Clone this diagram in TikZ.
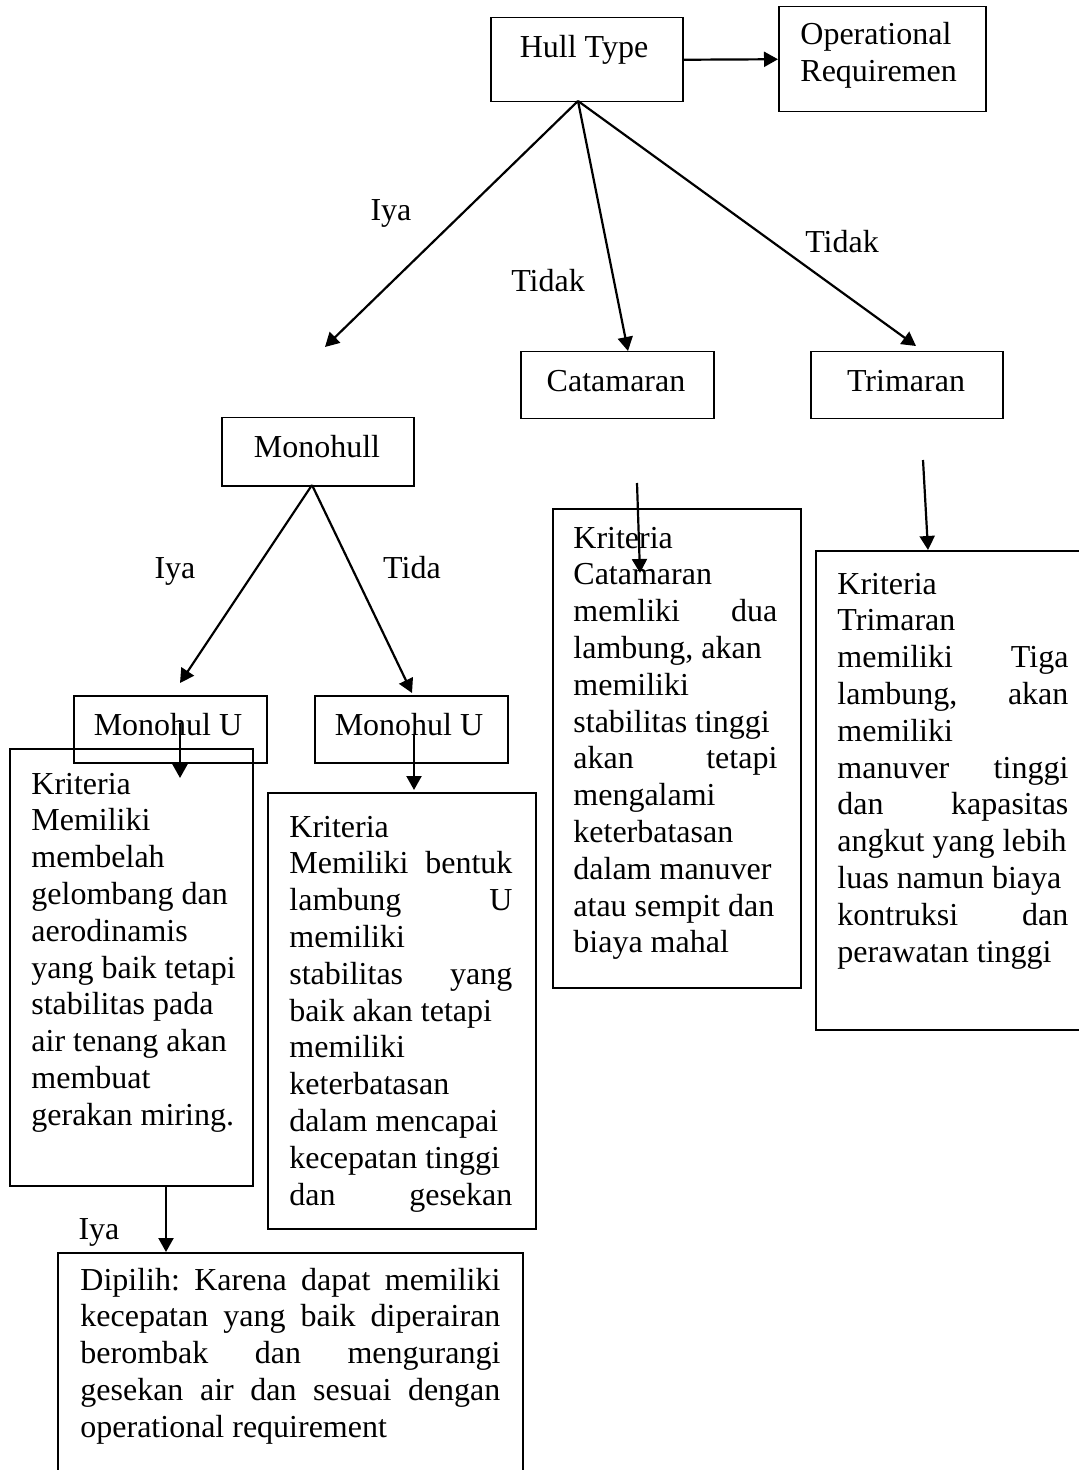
\documentclass[tikz,border=0pt]{standalone}
\usepackage{fontspec}
\setmainfont{Liberation Serif}
\usetikzlibrary{arrows.meta}
\newcommand\rs{\spaceskip=0pt\xspaceskip=0pt\frenchspacing}
\newcommand\jl[2]{\makebox[#1][s]{#2}}
\begin{document}
\begin{tikzpicture}[x=0.5pt,y=-0.5pt,
  box/.style={draw, line width=0.75pt, inner sep=0pt, anchor=north west},
  txt/.style={inner sep=0pt, font=\fontsize{16}{18.4}\selectfont},
  para/.style={txt, anchor=base west, align=left, text width=#1},
  arr/.style={line width=1.1pt, -{Triangle[length=7pt,width=7.5pt]}}]
\clip (0,0) rectangle (1079,1470);
\fill[white] (0,0) rectangle (1079,1470);

% boxes
\node[box, minimum width=96pt, minimum height=42pt] (hull) at (490,17) {};
\node[box, minimum width=103.5pt, minimum height=52.5pt] (op) at (778,6) {};
\node[box, minimum width=96.5pt, minimum height=33.5pt] (cat) at (520,351) {};
\node[box, minimum width=96pt, minimum height=33.5pt] (tri) at (810,351) {};
\node[box, minimum width=96pt, minimum height=34pt] (mono) at (221,417) {};
\node[box, minimum width=96.5pt, minimum height=33.5pt] (mul) at (73,695) {};
\node[box, minimum width=96.5pt, minimum height=33.5pt] (mur) at (314,695) {};
\node[box, minimum width=121.5pt, minimum height=218.5pt] (kl) at (9,748) {};
\node[box, minimum width=134pt, minimum height=218pt] (kr) at (267,792) {};
\node[box, minimum width=124pt, minimum height=239.5pt] (kc) at (552,508) {};
\node[box, minimum width=135pt, minimum height=239.5pt] (kt) at (815,550) {};
\node[box, minimum width=232.5pt, minimum height=115pt] (kb) at (57,1252) {};

% box texts
\node[txt, anchor=base] (hullt) at (584,58) {Hull Type};
\node[para=120pt] (opt) at (800,45) {\rs Operational\\Requiremen};
\node[txt, anchor=base] (catt) at (616,392) {Catamaran};
\node[txt, anchor=base] (trit) at (906,392) {Trimaran};
\node[txt, anchor=base] (monot) at (317,458) {Monohull};
\node[txt, anchor=base] (mult) at (168,735) {Monohul U};
\node[txt, anchor=base] (murt) at (409,735) {Monohul U};

\node[para=125pt] (klt) at (31,794) {\rs Kriteria\\Memiliki\\membelah\\gelombang dan\\aerodinamis\\yang baik tetapi\\stabilitas pada\\air tenang akan\\membuat\\gerakan miring.};
\node[para=130pt] (krt) at (289,837) {\rs Kriteria\\\jl{111.5pt}{Memiliki bentuk}\\\jl{111.5pt}{lambung U}\\memiliki\\\jl{111.5pt}{stabilitas yang}\\baik akan tetapi\\memiliki\\keterbatasan\\dalam mencapai\\kecepatan tinggi\\\jl{111.5pt}{dan gesekan}};
\node[para=125pt] (kct) at (573,548) {\rs Kriteria\\Catamaran\\\jl{102pt}{memliki dua}\\lambung, akan\\memiliki\\stabilitas tinggi\\\jl{102pt}{akan tetapi}\\mengalami\\keterbatasan\\dalam manuver\\atau sempit dan\\biaya mahal};
\node[para=130pt] (ktt) at (837,594) {\rs Kriteria\\Trimaran\\\jl{115.5pt}{memiliki Tiga}\\\jl{115.5pt}{lambung, akan}\\memiliki\\\jl{115.5pt}{manuver tinggi}\\\jl{115.5pt}{dan kapasitas}\\angkut yang lebih\\luas namun biaya\\\jl{115.5pt}{kontruksi dan}\\perawatan tinggi};
\node[para=230pt] (kbt) at (80,1290) {\rs\jl{210pt}{Dipilih: Karena dapat memiliki}\\\jl{210pt}{kecepatan yang baik diperairan}\\\jl{210pt}{berombak dan mengurangi}\\\jl{210pt}{gesekan air dan sesuai dengan}\\operational requirement};

% labels
\node[txt, anchor=base] (l1) at (391,221) {Iya};
\node[txt, anchor=base] (l2) at (548,292) {Tidak};
\node[txt, anchor=base] (l3) at (842,253) {Tidak};
\node[txt, anchor=base] (l4) at (175,578) {Iya};
\node[txt, anchor=base] (l5) at (412,578) {Tida};
\node[txt, anchor=base] (l6) at (99,1239) {Iya};

% connector coordinates
\coordinate (hs) at (578,101);
\coordinate (e1) at (325,347);
\coordinate (e2) at (628,351);
\coordinate (e3) at (916,346);
\coordinate (ms) at (312,485);
\coordinate (e4) at (180,683);
\coordinate (e5) at (412,693);
\coordinate (s6) at (180,723);
\coordinate (e6) at (180,778);
\coordinate (s7) at (414,735);
\coordinate (e7) at (414,790);
\coordinate (s8) at (637,483);
\coordinate (e8) at (640,573);
\coordinate (s9) at (923,460);
\coordinate (e9) at (928,550);
\coordinate (s10) at (166,1187);
\coordinate (e10) at (166,1252);

\draw[arr] (hull.east) -- (op.west);
\draw[arr] (hs) -- (e1);
\draw[arr] (hs) -- (e2);
\draw[arr] (hs) -- (e3);
\draw[arr] (ms) -- (e4);
\draw[arr] (ms) -- (e5);
\draw[arr] (s6) -- (e6);
\draw[arr] (s7) -- (e7);
\draw[arr] (s8) -- (e8);
\draw[arr] (s9) -- (e9);
\draw[arr] (s10) -- (e10);
\end{tikzpicture}
\end{document}
